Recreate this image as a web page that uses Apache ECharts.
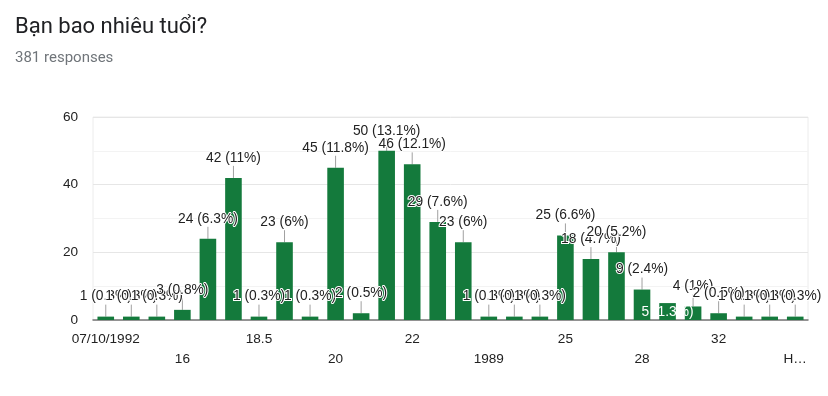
<!DOCTYPE html>
<html>
<head>
<meta charset="utf-8">
<script src="https://cdn.jsdelivr.net/npm/echarts@6/dist/echarts.min.js"></script>
<style>
  html, body { margin: 0; padding: 0; background: #fff; }
  #chart { width: 828px; height: 396px; }
</style>
</head>
<body>
<div id="chart"></div>
<script>
// answers to "Bạn bao nhiêu tuổi?" (only every third name is visible on the axis)
const categories = [
  '07/10/1992', '13', '15', '16', '17', '18', '18.5', '19', '19.5', '20',
  '20.5', '21', '22', '23', '24', '1989', '1990', '1994', '25', '26',
  '27', '28', '29', '30', '32', '33', '35', 'H…'
];
const counts = [
  1, 1, 1, 3, 24, 42, 1, 23, 1, 45,
  2, 50, 46, 29, 23, 1, 1, 1, 25, 18,
  20, 9, 5, 4, 2, 1, 1, 1
];
const total = 381;
// bar whose label Google put inside the bar
const insideLabel = [22];

const green = '#147a3c';
const font = 'Liberation Sans, Arial, sans-serif';

const pct = v => Math.round(v / total * 1000) / 10;

const barData = counts.map((v, i) => {
  if (insideLabel.includes(i)) {
    return {
      value: v,
      label: {position: 'insideBottom', distance: 1, color: '#fff', textBorderWidth: 0}
    };
  }
  return v;
});

const stemData = counts
  .map((v, i) => [i, v])
  .filter(d => !insideLabel.includes(d[0]));

const chart = echarts.init(document.getElementById('chart'));

chart.setOption({
  animation: false,
  backgroundColor: '#fff',
  title: {
    text: 'Bạn bao nhiêu tuổi?',
    subtext: '381 responses',
    left: 10,
    top: 11,
    itemGap: 13,
    textStyle: {fontFamily: 'Roboto', fontSize: 22, fontWeight: 'normal', color: '#202124'},
    subtextStyle: {fontFamily: 'Roboto', fontSize: 15, color: '#70757a'}
  },
  grid: {
    left: 93,
    right: 20,
    top: 117,
    bottom: 76,
    show: true,
    borderColor: '#ececec',
    borderWidth: 1
  },
  xAxis: {
    type: 'category',
    data: categories,
    axisTick: {show: false},
    axisLine: {lineStyle: {color: '#777', width: 1.5}},
    axisLabel: {
      interval: 2,
      margin: 9,
      fontFamily: font,
      fontSize: 13.6,
      lineHeight: 20,
      color: '#222',
      formatter: (value, index) => (Math.floor(index / 3) % 2 === 1 ? '\n' + value : value)
    }
  },
  yAxis: {
    type: 'value',
    min: 0,
    max: 60,
    interval: 20,
    axisLine: {show: false},
    axisTick: {show: false},
    axisLabel: {margin: 15, fontFamily: font, fontSize: 13.6, color: '#222'},
    splitLine: {lineStyle: {color: '#e6e6e6'}},
    minorSplitLine: {show: true, lineStyle: {color: '#f3f3f3'}},
    minorTick: {show: false, splitNumber: 2}
  },
  series: [
    {
      name: 'stems',
      type: 'custom',
      data: stemData,
      z: 1,
      silent: true,
      renderItem: (params, api) => {
        const p = api.coord([api.value(0), api.value(1)]);
        return {
          type: 'line',
          shape: {x1: p[0], y1: p[1], x2: p[0], y2: p[1] - 12},
          style: {stroke: '#a0a0a0', lineWidth: 1}
        };
      }
    },
    {
      name: 'responses',
      type: 'bar',
      data: barData,
      z: 2,
      barCategoryGap: '35%',
      itemStyle: {color: green},
      label: {
        show: true,
        position: 'top',
        distance: 13,
        fontFamily: font,
        fontSize: 13.8,
        color: '#222',
        textBorderColor: '#fff',
        textBorderWidth: 2,
        formatter: p => p.value + ' (' + pct(p.value) + '%)'
      }
    }
  ]
});
</script>
</body>
</html>
